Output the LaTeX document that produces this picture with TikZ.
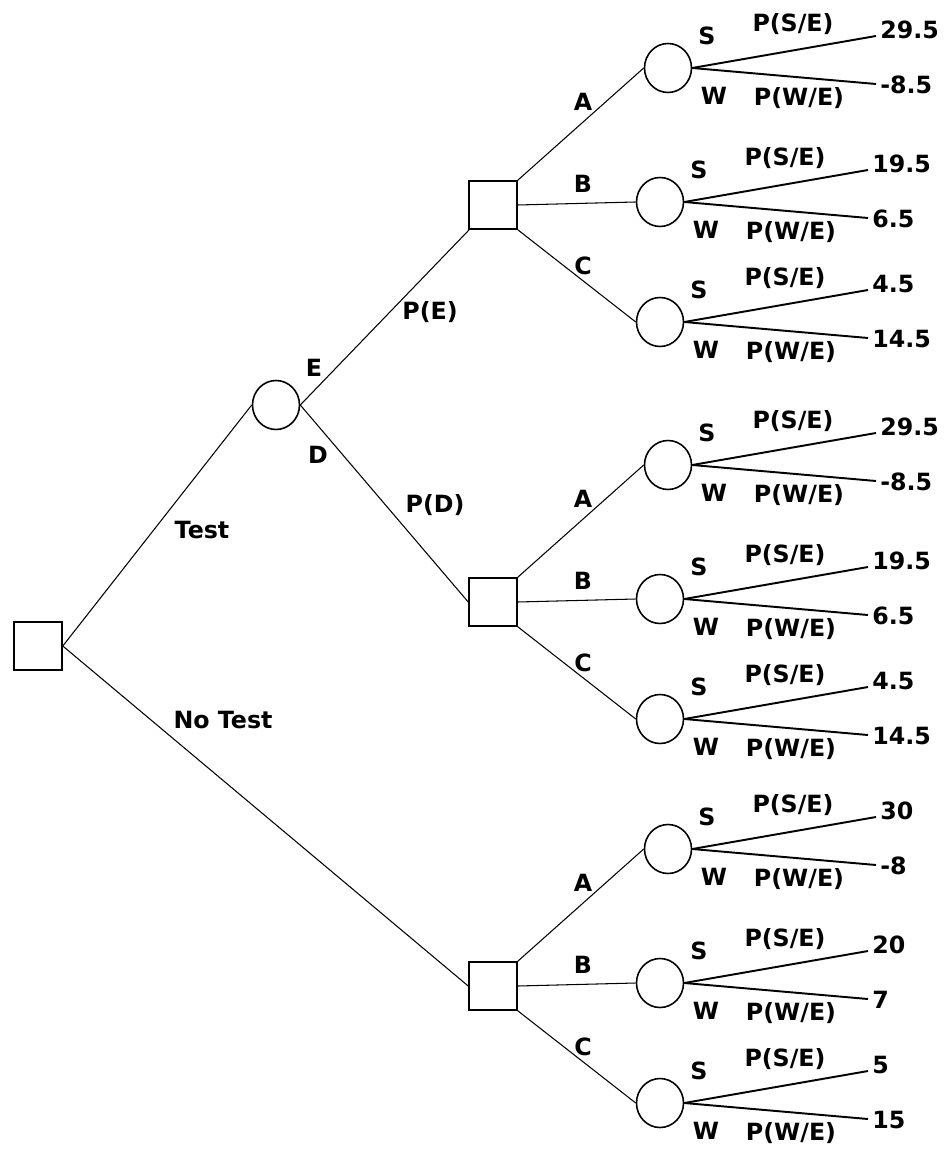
\documentclass[tikz,border=0pt]{standalone}
\usepackage{fontspec}
\setmainfont{DejaVu Sans}
\usetikzlibrary{shapes.geometric}

\tikzset{
  decision/.style={draw, line width=0.9pt, rectangle, minimum size=0.96cm, inner sep=0pt},
  chance/.style={draw, line width=0.9pt, ellipse, minimum width=0.94cm, minimum height=0.98cm, inner sep=0pt},
  branch/.style={line width=0.6pt},
  leaf/.style={line width=1.1pt},
  lbl/.style={font=\bfseries\fontsize{13.5}{14}\selectfont, inner sep=0pt},
}

\begin{document}
\begin{tikzpicture}[x=0.02cm, y=-0.02cm]
  \useasboundingbox (0,0) rectangle (951,1151);
  % test or no test
  \node[decision] (root) at (38,646) {};
  \node[chance] (test) at (276,405) {};
  \node[decision] (dE) at (493,205) {};
  \node[decision] (dD) at (493,602) {};
  \node[decision] (dN) at (493,986) {};
  \draw[branch] (root.east) -- (test.west);
  \draw[branch] (root.east) -- (dN.west);
  \draw[branch] (test.east) -- (dE);
  \draw[branch] (test.east) -- (dD.west);
  \node[lbl] (lTest) at (202,530) {Test};
  \node[lbl] (lNoTest) at (223,720) {No Test};
  \node[lbl] (lE) at (314,368) {E};
  \node[lbl] (lD) at (318,455) {D};
  \node[lbl] (lPE) at (430,312) {P(E)};
  \node[lbl] (lPD) at (435,505) {P(D)};
  % options A, B, C, then S or W
  \foreach \g/\gy/\va/\vb/\vc/\vd/\ve/\vf in {E/205/29.5/-8.5/19.5/6.5/4.5/14.5,
      D/602/29.5/-8.5/19.5/6.5/4.5/14.5, N/986/30/-8/20/7/5/15} {
    \foreach \opt/\anc/\cx/\dy/\ldy/\vs/\vw in {A/north east/668/-137/-103/\va/\vb,
        B/east/660/-3/-21/\vc/\vd, C/south east/660/117/61/\ve/\vf} {
      \pgfmathsetmacro\cy{\gy+\dy}
      \pgfmathsetmacro\ly{\gy+\ldy}
      \node[chance] (c\g\opt) at (\cx,\cy) {};
      \draw[branch] (d\g.\anc) -- (c\g\opt.west);
      \node[lbl] (l\g\opt) at (583,\ly) {\opt};
      \coordinate (s\g\opt) at (\cx+208,\cy-32);
      \coordinate (w\g\opt) at (\cx+208,\cy+16);
      \draw[leaf] (c\g\opt.east) -- (s\g\opt);
      \draw[leaf] (c\g\opt.east) -- (w\g\opt);
      \node[lbl] (S\g\opt) at (\cx+39,\cy-32) {S};
      \node[lbl] (W\g\opt) at (\cx+46,\cy+28) {W};
      \node[lbl] (pS\g\opt) at (\cx+125,\cy-44) {P(S/E)};
      \node[lbl] (pW\g\opt) at (\cx+131,\cy+30) {P(W/E)};
      \node[lbl, anchor=west] (vS\g\opt) at (\cx+212,\cy-38) {\vs};
      \node[lbl, anchor=west] (vW\g\opt) at (\cx+212,\cy+17) {\vw};
    }
  }
\end{tikzpicture}
\end{document}
